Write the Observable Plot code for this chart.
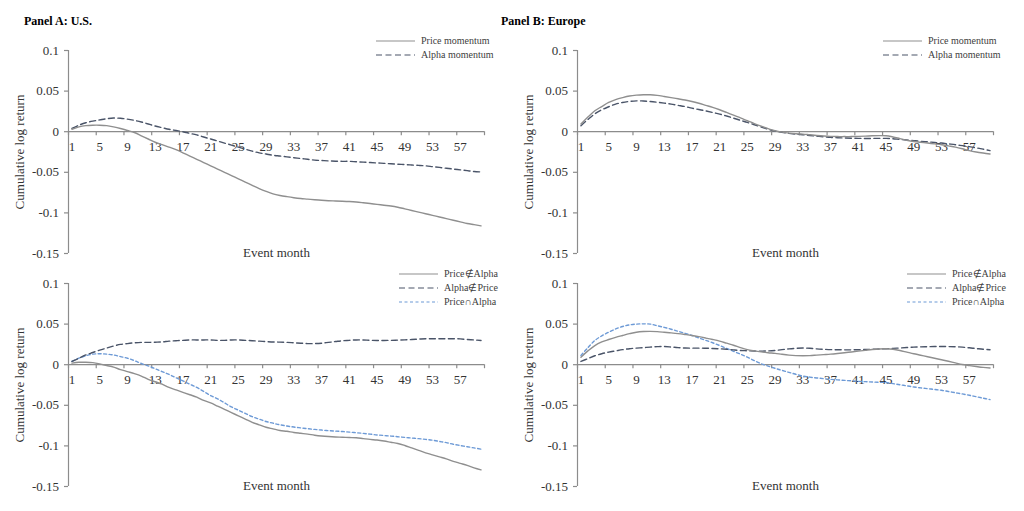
<!DOCTYPE html>
<html><head><meta charset="utf-8">
<script src="https://cdn.jsdelivr.net/npm/d3@7"></script>
<script src="https://cdn.jsdelivr.net/npm/@observablehq/plot@0.6"></script>
<style>
body{margin:0;background:#fff;}
#root{position:relative;width:1024px;height:511px;overflow:hidden;font-family:"Liberation Serif","Times New Roman",serif;color:#333;}
.abs{position:absolute;}
.title{font-weight:bold;font-size:12px;color:#000;line-height:14px;white-space:nowrap;}
.leg{font-size:10px;line-height:12px;white-space:nowrap;color:#404040;display:flex;align-items:center;}
</style></head><body><div id="root"></div>
<script>
// ---------- data ----------
const months = d3.range(1, 61);
const xTickLabels = [1, 5, 9, 13, 17, 21, 25, 29, 33, 37, 41, 45, 49, 53, 57];
const yTicks = [-0.15, -0.1, -0.05, 0, 0.05, 0.1];
const panelTitles = ["Panel A: U.S.", "Panel B: Europe"];
const yLabel = "Cumulative log return";
const xLabel = "Event month";
const topNames = ["Price momentum", "Alpha momentum"];
const bottomNames = ["Price\u2209Alpha", "Alpha\u2209Price", "Price\u2229Alpha"];

// Panel A (U.S.), top
const usPrice = [0.003,0.006,0.0075,0.008,0.008,0.0075,0.006,0.004,0.0015,-0.001,
  -0.005,-0.009,-0.013,-0.016,-0.019,-0.022,-0.026,-0.030,-0.034,-0.038,
  -0.042,-0.046,-0.050,-0.054,-0.058,-0.062,-0.066,-0.070,-0.0735,-0.0765,
  -0.0785,-0.080,-0.0813,-0.0823,-0.083,-0.0838,-0.0845,-0.085,-0.0853,-0.0856,
  -0.086,-0.0866,-0.0875,-0.0885,-0.0895,-0.0905,-0.0915,-0.093,-0.095,-0.097,
  -0.099,-0.101,-0.103,-0.105,-0.107,-0.109,-0.111,-0.113,-0.1145,-0.116];
const usAlpha = [0.004,0.008,0.011,0.013,0.0145,0.016,0.0168,0.0165,0.0155,0.014,
  0.012,0.0095,0.007,0.005,0.003,0.0015,0,-0.002,-0.004,-0.0065,
  -0.009,-0.0115,-0.014,-0.0165,-0.019,-0.0215,-0.024,-0.026,-0.0275,-0.029,
  -0.030,-0.031,-0.032,-0.033,-0.034,-0.035,-0.0355,-0.036,-0.0363,-0.0365,
  -0.0365,-0.037,-0.0375,-0.038,-0.0385,-0.039,-0.0395,-0.040,-0.0405,-0.041,
  -0.0415,-0.042,-0.043,-0.044,-0.045,-0.046,-0.047,-0.048,-0.049,-0.0495];
// Panel A (U.S.), bottom
const usPnotA = [0.002,0.003,0.003,0.0025,0.001,-0.001,-0.003,-0.006,-0.0085,-0.011,
  -0.014,-0.018,-0.021,-0.024,-0.028,-0.031,-0.034,-0.037,-0.040,-0.044,
  -0.047,-0.051,-0.055,-0.059,-0.063,-0.067,-0.071,-0.074,-0.077,-0.079,
  -0.081,-0.082,-0.0835,-0.0845,-0.0855,-0.0868,-0.0878,-0.0885,-0.089,-0.0893,
  -0.0897,-0.090,-0.091,-0.092,-0.0928,-0.094,-0.0955,-0.097,-0.0995,-0.1025,
  -0.1055,-0.1085,-0.111,-0.1135,-0.116,-0.119,-0.1215,-0.124,-0.127,-0.1295];
const usAnotP = [0.004,0.008,0.012,0.015,0.018,0.0205,0.023,0.025,0.026,0.027,
  0.0275,0.0275,0.0277,0.028,0.029,0.0295,0.030,0.0305,0.0305,0.0305,
  0.0305,0.030,0.030,0.0305,0.0305,0.030,0.0295,0.029,0.0285,0.028,
  0.0278,0.0275,0.027,0.0265,0.026,0.026,0.0265,0.0275,0.0285,0.0295,
  0.030,0.0305,0.0305,0.030,0.0298,0.0298,0.030,0.0303,0.0306,0.031,
  0.0315,0.032,0.032,0.032,0.032,0.032,0.0318,0.031,0.0305,0.0298];
const usBoth = [0.004,0.008,0.011,0.013,0.0135,0.013,0.012,0.010,0.008,0.005,
  0.0015,-0.0015,-0.005,-0.0085,-0.012,-0.016,-0.020,-0.024,-0.028,-0.033,
  -0.038,-0.042,-0.047,-0.052,-0.056,-0.060,-0.064,-0.067,-0.070,-0.072,
  -0.074,-0.0755,-0.0768,-0.0778,-0.0788,-0.0797,-0.0805,-0.0812,-0.0818,-0.0823,
  -0.083,-0.0838,-0.0846,-0.0855,-0.0865,-0.0872,-0.0879,-0.0887,-0.0895,-0.0903,
  -0.0911,-0.092,-0.093,-0.0945,-0.096,-0.098,-0.0995,-0.101,-0.1025,-0.104];
// Panel B (Europe), top
const euPrice = [0.0094,0.018,0.0258,0.031,0.036,0.0395,0.042,0.044,0.045,0.0455,
  0.0455,0.0447,0.0434,0.042,0.0405,0.039,0.0372,0.035,0.0325,0.030,
  0.027,0.0237,0.0203,0.017,0.0135,0.010,0.0068,0.0038,0.0012,-0.0005,
  -0.0017,-0.0025,-0.003,-0.0038,-0.0046,-0.0053,-0.0058,-0.006,-0.006,-0.006,
  -0.0058,-0.0055,-0.005,-0.0048,-0.005,-0.0065,-0.0085,-0.0105,-0.012,-0.013,
  -0.014,-0.015,-0.016,-0.0175,-0.019,-0.021,-0.0233,-0.025,-0.0263,-0.0274];
const euAlpha = [0.0074,0.015,0.022,0.027,0.0307,0.034,0.036,0.0373,0.038,0.0378,
  0.0372,0.0363,0.0352,0.034,0.0325,0.031,0.029,0.0273,0.0256,0.0237,
  0.0217,0.0193,0.0167,0.014,0.0114,0.0086,0.0058,0.003,0.0008,-0.0008,
  -0.002,-0.003,-0.0038,-0.0047,-0.0055,-0.0063,-0.007,-0.0074,-0.0077,-0.008,
  -0.0082,-0.0083,-0.0083,-0.0082,-0.0082,-0.0087,-0.0095,-0.0102,-0.011,-0.0118,
  -0.0125,-0.0133,-0.014,-0.015,-0.016,-0.0172,-0.0184,-0.0198,-0.0215,-0.0233];
// Panel B (Europe), bottom
const euPnotA = [0.0093,0.017,0.0236,0.028,0.031,0.0337,0.036,0.0382,0.040,0.0408,
  0.041,0.0407,0.040,0.0392,0.0383,0.0372,0.036,0.0345,0.0328,0.031,
  0.029,0.0265,0.024,0.021,0.0185,0.017,0.0158,0.0148,0.014,0.0128,
  0.0118,0.0112,0.011,0.0112,0.0118,0.0124,0.013,0.0138,0.0147,0.0157,
  0.0167,0.0177,0.0187,0.0194,0.0196,0.019,0.0175,0.0155,0.0135,0.0117,
  0.0098,0.008,0.0061,0.0042,0.0022,0.0003,-0.001,-0.0022,-0.0033,-0.004];
const euAnotP = [0.004,0.0075,0.011,0.0135,0.0155,0.017,0.0185,0.0197,0.0204,0.021,
  0.0217,0.0222,0.0224,0.0218,0.021,0.0205,0.0204,0.0204,0.0203,0.020,
  0.0196,0.019,0.0182,0.0175,0.0172,0.0168,0.0167,0.017,0.0176,0.0185,
  0.0195,0.0202,0.0205,0.0202,0.0195,0.019,0.0186,0.0184,0.0183,0.0183,
  0.0184,0.0187,0.019,0.0193,0.0196,0.0201,0.0206,0.0211,0.0216,0.022,
  0.0222,0.0224,0.0224,0.0223,0.0221,0.0216,0.0208,0.0199,0.019,0.0184];
const euBoth = [0.0114,0.021,0.0298,0.0355,0.040,0.044,0.047,0.049,0.050,0.0503,
  0.050,0.048,0.046,0.0437,0.0412,0.0387,0.036,0.033,0.030,0.027,
  0.0236,0.020,0.0165,0.013,0.0093,0.005,0.0012,-0.0018,-0.0045,-0.007,
  -0.0095,-0.0118,-0.014,-0.0153,-0.0163,-0.0172,-0.018,-0.0187,-0.0193,-0.0199,
  -0.0205,-0.0209,-0.0213,-0.0217,-0.022,-0.0233,-0.0247,-0.026,-0.0274,-0.0285,
  -0.0295,-0.0305,-0.0315,-0.033,-0.0345,-0.036,-0.0376,-0.0394,-0.0412,-0.043];

// ---------- styles ----------
const axisColor = "#8c8c8c";
const textColor = "#333";
const styles = {
  solid: {stroke: "#8f8f8f", dash: null},
  dashed: {stroke: "#4a5468", dash: "6,3.5"},
  dotted: {stroke: "#6d9ad6", dash: "3,2.5"}
};

const root = document.getElementById("root");

function fmt(d) { return d === 0 ? "0" : String(d); }

function panel(series, left, top) {
  const xTickPos = [0.5].concat(xTickLabels.map(d => d + 3.5));
  const lineMarks = series.slice().reverse().map(s => {
    const data = s.values.map((v, i) => ({month: months[i], value: v}));
    return Plot.line(data, {x: "month", y: "value", stroke: styles[s.style].stroke,
      strokeDasharray: styles[s.style].dash, strokeWidth: 1.4, curve: "catmull-rom"});
  });
  const chart = Plot.plot({
    width: 512, height: 240,
    marginLeft: 68, marginRight: 28, marginTop: 20, marginBottom: 17,
    x: {domain: [0.5, 60.5], axis: null},
    y: {domain: [yTicks[0], yTicks[yTicks.length - 1]], axis: null},
    style: {fontFamily: '"Liberation Serif","Times New Roman",serif', background: "transparent", overflow: "visible"},
    marks: [
      Plot.ruleX([0.5], {x: d => d, y1: yTicks[0], y2: yTicks[yTicks.length - 1], stroke: axisColor, strokeWidth: 1.2}),
      Plot.ruleY(yTicks, {y: d => d, x1: 0.5, x2: 0.5, insetLeft: -4, stroke: axisColor, strokeWidth: 1.2}),
      Plot.text(yTicks, {x: 0.5, y: d => d, dx: -9.5, textAnchor: "end", text: fmt, fontSize: 13, fill: textColor}),
      Plot.ruleY([0], {y: d => d, x1: 0.5, x2: 60.5, stroke: axisColor, strokeWidth: 1.2}),
      Plot.ruleX(xTickPos, {x: d => d, y1: 0, y2: 0, insetBottom: -4, stroke: axisColor, strokeWidth: 1.2}),
      Plot.text(xTickLabels, {x: d => d, y: 0, dy: 15.5, text: d => String(d), fontSize: 13, fill: textColor}),
      ...lineMarks,
      Plot.text([yLabel], {frameAnchor: "left", textAnchor: "middle", lineAnchor: "middle", rotate: -90, dx: -49, fontSize: 13, fill: textColor}),
      Plot.text([xLabel], {frameAnchor: "bottom", lineAnchor: "middle", dy: -0.5, fontSize: 13, fill: textColor})
    ]
  });
  const div = document.createElement("div");
  div.className = "abs";
  div.style.left = left + "px";
  div.style.top = top + "px";
  div.appendChild(chart);
  root.appendChild(div);
}

function legend(series, lineLeft, top) {
  series.forEach((s, i) => {
    const row = document.createElement("div");
    row.className = "abs leg";
    row.style.left = lineLeft + "px";
    row.style.top = (top + i * 14 - 6) + "px";
    const svg = d3.create("svg").attr("width", 45).attr("height", 12);
    svg.append("line").attr("x1", 0).attr("x2", 39).attr("y1", 6).attr("y2", 6)
      .attr("stroke", styles[s.style].stroke).attr("stroke-width", 1.2)
      .attr("stroke-dasharray", styles[s.style].dash);
    row.appendChild(svg.node());
    const span = document.createElement("span");
    span.textContent = s.name;
    row.appendChild(span);
    root.appendChild(row);
  });
}

function title(text, left) {
  const t = document.createElement("div");
  t.className = "abs title";
  t.style.left = left + "px";
  t.style.top = "14px";
  t.textContent = text;
  root.appendChild(t);
}

title(panelTitles[0], 24);
title(panelTitles[1], 501);

const usTop = [{name: topNames[0], values: usPrice, style: "solid"}, {name: topNames[1], values: usAlpha, style: "dashed"}];
const euTop = [{name: topNames[0], values: euPrice, style: "solid"}, {name: topNames[1], values: euAlpha, style: "dashed"}];
const usBot = [{name: bottomNames[0], values: usPnotA, style: "solid"}, {name: bottomNames[1], values: usAnotP, style: "dashed"}, {name: bottomNames[2], values: usBoth, style: "dotted"}];
const euBot = [{name: bottomNames[0], values: euPnotA, style: "solid"}, {name: bottomNames[1], values: euAnotP, style: "dashed"}, {name: bottomNames[2], values: euBoth, style: "dotted"}];

panel(usTop, 0, 30);
panel(euTop, 509, 30);
panel(usBot, 0, 263);
panel(euBot, 509, 263);

legend(usTop, 376, 41);
legend(euTop, 883, 41);
legend(usBot, 399, 274);
legend(euBot, 907, 274);
</script></body></html>
